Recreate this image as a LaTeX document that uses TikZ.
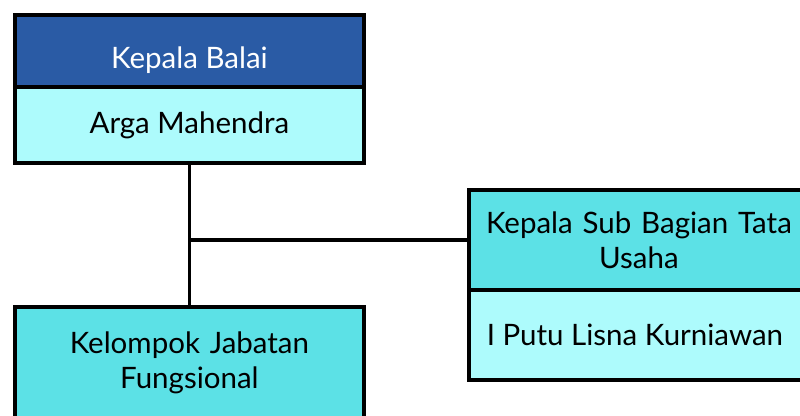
\documentclass[tikz,border=0pt]{standalone}
\usepackage{fontspec}
\setmainfont{Lato}
\definecolor{darkblue}{HTML}{2A5BA5}
\definecolor{lightcyan}{HTML}{ADFBFC}
\definecolor{midcyan}{HTML}{5CE1E6}
\begin{document}
\begin{tikzpicture}[x=1pt,y=-1pt,
  box/.style={draw=black,line width=3.8pt,anchor=north west,inner sep=0pt,align=center,font=\fontsize{29.5}{35}\selectfont,text=black},
  link/.style={draw=black,line width=3.8pt}]
\useasboundingbox (0,0) rectangle (800,415);
\clip (0,0) rectangle (800,415);
\node[box,fill=darkblue,text=white,minimum width=349pt,minimum height=72pt] (kb) at (13,13) {\raisebox{-18pt}[0pt][0pt]{Kepala Balai}};
\node[box,fill=lightcyan,minimum width=349pt,minimum height=76pt] (am) at (13,85) {Arga Mahendra};
\node[box,fill=midcyan,minimum width=349pt,minimum height=112pt,text width=330pt] (fj) at (13,305) {Kelompok Jabatan\\Fungsional};
\node[box,fill=midcyan,minimum width=340pt,minimum height=100pt,text width=330pt] (ks) at (467,188) {\raisebox{-4pt}{Kepala Sub Bagian Tata}\\\raisebox{-4pt}{Usaha}};
\node[box,fill=lightcyan,minimum width=340pt,minimum height=90pt] (ip) at (467,288) {I Putu Lisna Kurniawan\hspace*{8pt}};
\coordinate (j) at (am.south |- ks.west);
\draw[link] (am.south) -- (fj.north);
\draw[link] (j) -- (ks.west);
\end{tikzpicture}
\end{document}
